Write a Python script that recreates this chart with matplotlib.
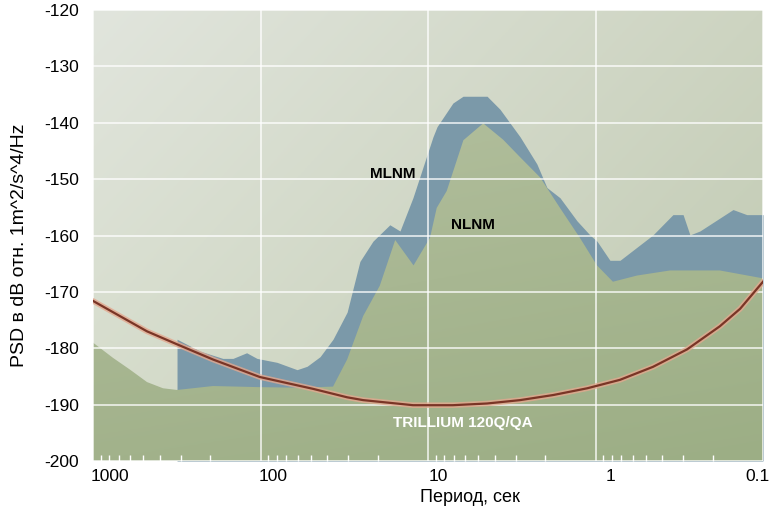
import matplotlib
matplotlib.use("Agg")
import matplotlib.pyplot as plt
import matplotlib.transforms as mtransforms
import matplotlib.ticker as mticker
from matplotlib.colors import to_rgb
import numpy as np

plt.rcParams['font.family'] = ['Liberation Sans', 'DejaVu Sans']
plt.rcParams['axes.unicode_minus'] = False

# --- data (period in s, PSD in dB) ---
nlnm_period = [1000, 760, 601, 476, 382, 315, 192, 101, 58, 36.9, 30.4, 24.4, 19.4,
               15.7, 12.2, 9.73, 8.87, 7.73, 6.15, 4.68, 3.56, 2.82, 2.14, 1.63,
               1.24, 0.98, 0.787, 0.565, 0.359, 0.181, 0.1]
nlnm_db = [-179.0, -181.7, -183.8, -186.0, -187.1, -187.4, -186.7, -186.9, -187.0,
           -186.8, -182.0, -174.3, -168.9, -160.8, -165.3, -160.4, -155.1, -152.1,
           -143.1, -140.1, -143.0, -146.1, -149.7, -155.1, -160.4, -165.3, -168.2,
           -167.1, -166.2, -166.2, -167.6]

mlnm_period = [315, 315, 230, 168, 146, 121, 105, 79.7, 60.5, 52.7, 44.1, 36.9, 30.4,
               25.5, 21.3, 16.9, 14.7, 12.3, 9.34, 8.83, 7.10, 6.18, 4.44, 3.72, 2.82,
               2.24, 1.95, 1.63, 1.29, 1.08, 0.98, 0.82, 0.714, 0.454, 0.345, 0.30,
               0.273, 0.238, 0.151, 0.125, 0.1]
mlnm_db = [-187.4, -178.4, -180.5, -181.8, -181.8, -180.8, -181.8, -182.5, -183.8,
           -183.2, -181.5, -178.4, -173.6, -164.6, -161.0, -158.1, -159.2, -153.3,
           -142.5, -140.7, -136.5, -135.3, -135.3, -137.6, -142.5, -147.3, -151.5,
           -153.3, -157.4, -159.9, -161.0, -164.4, -164.4, -159.9, -156.3, -156.3,
           -159.9, -159.2, -155.4, -156.3, -156.3]

trill_period = [1000, 760, 476, 315, 192, 101, 48.6, 30.4, 24.4, 12.3, 7.10, 4.44,
                2.82, 1.79, 1.12, 0.714, 0.454, 0.284, 0.181, 0.137, 0.1]
trill_db = [-171.6, -173.6, -177.0, -179.3, -182.0, -185.1, -187.2, -188.7, -189.2,
            -190.1, -190.1, -189.8, -189.2, -188.3, -187.1, -185.6, -183.3, -180.2,
            -176.1, -173.0, -168.2]

x_ticks = [1000, 100, 10, 1, 0.1]
x_tick_labels = ["1000", "100", "10", "1", "0.1"]
y_ticks = list(range(-200, -119, 10))

# --- figure ---
fig = plt.figure(figsize=(7.75, 5.08), dpi=100)
ax = fig.add_axes([93 / 775, 1 - 461 / 508, 670 / 775, 451 / 508])
ax.set_xscale("log")
ax.set_xlim(1000, 0.1)
ax.set_ylim(-200, -120)


def gradient(c_tl, c_tr, c_bl, c_br, n=200):
    u = np.linspace(0, 1, n)[None, :, None]
    v = np.linspace(0, 1, n)[:, None, None]
    tl, tr, bl, br = (np.array(to_rgb(c)) for c in (c_tl, c_tr, c_bl, c_br))
    top = tl * (1 - u) + tr * u
    bot = bl * (1 - u) + br * u
    return top * (1 - v) + bot * v


# background
ax.imshow(gradient("#e1e5dd", "#cdd4c1", "#d4dbc9", "#bfc9b0"),
          extent=[0, 1, 0, 1], transform=ax.transAxes, aspect="auto", zorder=0)

ax.grid(True, which="major", color="white", lw=1.3, alpha=0.75)
ax.set_axisbelow(False)
for gl in ax.get_xgridlines() + ax.get_ygridlines():
    gl.set_zorder(2)

# MLNM band (visible between MLNM and NLNM)
ax.fill_between(mlnm_period, mlnm_db, -200, color="#7b99a9", lw=0, zorder=1.5)

# NLNM olive area with gradient
olive = ax.fill_between(nlnm_period, nlnm_db, -200, color="none", lw=0, zorder=1.6)
img = ax.imshow(gradient("#b9c4a6", "#b2bf9c", "#a2b28b", "#9cae85"),
                extent=[0, 1, 0, 1], transform=ax.transAxes, aspect="auto", zorder=1.6)
img.set_clip_path(olive.get_paths()[0], transform=ax.transData)

# Trillium self-noise curve
ax.plot(trill_period, trill_db, color="#e3a88f", lw=4.0, alpha=0.8,
        solid_capstyle="round", zorder=3)
ax.plot(trill_period, trill_db, color="#7a3526", lw=1.6, zorder=3.1)

ax.text(16.2, -149.1, "MLNM", fontsize=11, fontweight="bold", ha="center",
        va="center", zorder=4)
ax.text(5.38, -158.1, "NLNM", fontsize=11, fontweight="bold", ha="center",
        va="center", zorder=4)
ax.text(6.18, -193.3, "TRILLIUM 120Q/QA", fontsize=11, fontweight="bold",
        color="white", ha="center", va="center", zorder=4)

# axes styling
for s in ax.spines.values():
    s.set_visible(False)
ax.set_yticks(y_ticks)
ax.set_xticks(x_ticks)
ax.set_xticklabels(x_tick_labels)
ax.xaxis.set_minor_locator(mticker.LogLocator(base=10, subs=np.arange(2, 10)))
ax.xaxis.set_minor_formatter(mticker.NullFormatter())
ax.tick_params(axis="both", which="major", length=0, labelsize=12.5, pad=10)
ax.tick_params(axis="x", which="major", pad=6)
ax.tick_params(axis="x", which="minor", direction="in", length=4, width=1,
               color="white")
ax.tick_params(axis="y", which="minor", length=0)

for lab, dx in zip(ax.get_xticklabels(), [17, 13, 10, 15, -5]):
    lab.set_transform(lab.get_transform() +
                      mtransforms.ScaledTranslation(dx / 100, 0, fig.dpi_scale_trans))

fig.text(470 / 775, 1 - 497 / 508, "Период, сек", fontsize=13, ha="center",
         va="center")
fig.text(20 / 775, 1 - 245 / 508, "PSD в dB отн. 1m^2/s^4/Hz", fontsize=14,
         rotation=90, ha="center", va="center")

fig.savefig("out.png", dpi=100)
